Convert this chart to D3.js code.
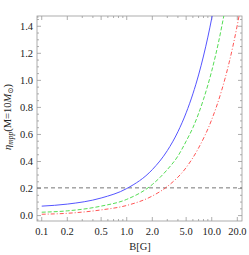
<!DOCTYPE html>
<html>
<head>
<meta charset="utf-8">
<script src="https://cdn.jsdelivr.net/npm/d3@7"></script>
<style>
  body { margin: 0; background: #fff; }
  text { font-family: "Liberation Serif", "DejaVu Serif", serif; }
</style>
</head>
<body>
<svg id="chart"></svg>
<script>
const width = 249, height = 255;
const frame = { left: 37, right: 242, top: 16, bottom: 221 };

// B values (Gauss) and curves
const bBlue = [0.1, 0.2, 0.5, 1, 2, 3, 4, 5, 6, 7, 8, 9, 10, 10.5];
const etaBlue = [0.07, 0.085, 0.13, 0.2, 0.34, 0.48, 0.62, 0.76, 0.9, 1.04, 1.18, 1.32, 1.46, 1.53];
const bGreen = [0.1, 0.2, 0.5, 1, 2, 3, 4, 5, 6, 8, 10, 12, 14];
const etaGreen = [0.025, 0.035, 0.07, 0.12, 0.23, 0.34, 0.44, 0.55, 0.65, 0.86, 1.07, 1.28, 1.49];
const bRed = [0.1, 0.2, 0.5, 1, 2, 3, 5, 7, 10, 13, 16, 20, 21];
const etaRed = [0.01, 0.017, 0.042, 0.075, 0.145, 0.215, 0.355, 0.5, 0.71, 0.92, 1.13, 1.41, 1.48];
const etaLimit = 0.205;

const xTicks = [0.1, 0.2, 0.5, 1, 2, 5, 10, 20];
const xTickLabels = ['0.1', '0.2', '0.5', '1.0', '2.0', '5.0', '10.0', '20.0'];
const yTicks = [0, 0.2, 0.4, 0.6, 0.8, 1.0, 1.2, 1.4];

const svg = d3.select('#chart').attr('width', width).attr('height', height);

const x = d3.scaleLog().domain([0.088, 22.7]).range([frame.left, frame.right]);
const y = d3.scaleLinear().domain([-0.04, 1.476]).range([frame.bottom, frame.top]);

svg.append('clipPath').attr('id', 'clip')
  .append('rect')
  .attr('x', frame.left).attr('y', frame.top)
  .attr('width', frame.right - frame.left).attr('height', frame.bottom - frame.top);

// minor ticks
const xMinor = [];
[0.1, 1, 10].forEach(d => { for (let k = 1; k < 10; k++) { const v = d * k; if (v >= 0.09 && v <= 22) xMinor.push(v); } });
xMinor.push(0.09);
const yMinor = d3.range(-0.0, 1.47, 0.05);

const fc = '#999';
const ax = svg.append('g').attr('stroke', fc).attr('stroke-width', 0.8);
// bottom and top ticks
xMinor.forEach(v => {
  const major = xTicks.includes(Math.round(v * 100) / 100);
  const len = major ? 4 : 2;
  ax.append('line').attr('x1', x(v)).attr('x2', x(v)).attr('y1', frame.bottom).attr('y2', frame.bottom - len);
  ax.append('line').attr('x1', x(v)).attr('x2', x(v)).attr('y1', frame.top).attr('y2', frame.top + len);
});
yMinor.forEach(v => {
  const major = Math.abs(v * 5 - Math.round(v * 5)) < 1e-6;
  const len = major ? 4 : 2;
  ax.append('line').attr('x1', frame.left).attr('x2', frame.left + len).attr('y1', y(v)).attr('y2', y(v));
  ax.append('line').attr('x1', frame.right).attr('x2', frame.right - len).attr('y1', y(v)).attr('y2', y(v));
});
ax.append('rect')
  .attr('x', frame.left).attr('y', frame.top)
  .attr('width', frame.right - frame.left).attr('height', frame.bottom - frame.top)
  .attr('fill', 'none');

// tick labels
svg.append('g').selectAll('text').data(xTicks).enter().append('text')
  .attr('x', d => x(d)).attr('y', 234.5)
  .attr('text-anchor', 'middle').attr('font-size', 10.5).attr('fill', '#222')
  .text((d, i) => xTickLabels[i]);
svg.append('g').selectAll('text').data(yTicks).enter().append('text')
  .attr('x', 33).attr('y', d => y(d) + 3.5)
  .attr('text-anchor', 'end').attr('font-size', 10.5).attr('fill', '#222')
  .text(d => d.toFixed(1));

// axis titles
svg.append('text').attr('x', 140).attr('y', 250).attr('text-anchor', 'middle')
  .attr('font-size', 10.5).attr('fill', '#222').text('B[G]');
const yl = svg.append('text')
  .attr('transform', 'translate(11,117) rotate(-90)')
  .attr('text-anchor', 'middle').attr('font-size', 10.5).attr('fill', '#222');
yl.append('tspan').attr('font-style', 'italic').text('η');
yl.append('tspan').attr('font-style', 'italic').attr('font-size', 7.5).attr('dy', 2).text('mpp');
yl.append('tspan').attr('dy', -2).text('(M=10');
yl.append('tspan').attr('font-style', 'italic').text('M');
yl.append('tspan').attr('font-size', 7.5).attr('dy', 2).text('⊙');
yl.append('tspan').attr('dy', -2).text(')');

// curves
const line = d3.line().x(d => x(d[0])).y(d => y(d[1])).curve(d3.curveMonotoneX);
const plot = svg.append('g').attr('clip-path', 'url(#clip)').attr('fill', 'none');

plot.append('line')
  .attr('x1', frame.left).attr('x2', frame.right)
  .attr('y1', y(etaLimit)).attr('y2', y(etaLimit))
  .attr('stroke', '#666').attr('stroke-width', 0.9).attr('stroke-dasharray', '4,3');

const series = [
  { b: bBlue, eta: etaBlue, color: '#5555ff', dash: null },
  { b: bGreen, eta: etaGreen, color: '#55dd55', dash: '4,2' },
  { b: bRed, eta: etaRed, color: '#ff5555', dash: '4,2,1,2' }
];
series.forEach(s => {
  plot.append('path')
    .datum(s.b.map((v, i) => [v, s.eta[i]]))
    .attr('d', line)
    .attr('stroke', s.color).attr('stroke-width', 1)
    .attr('stroke-dasharray', s.dash);
});
</script>
</body>
</html>
